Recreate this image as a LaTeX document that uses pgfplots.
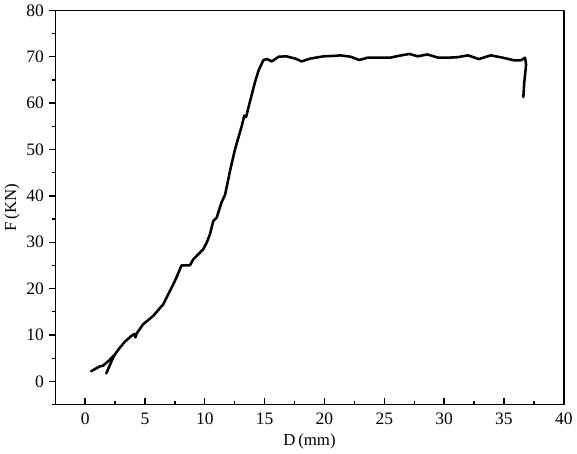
\documentclass[border=0pt]{standalone}
\usepackage{pgfplots}
\pgfplotsset{compat=1.18}
\usepackage{fontspec}
\setmainfont{Liberation Serif}
\begin{document}
\begin{tikzpicture}
\begin{axis}[
  scale only axis,
  width=378pt, height=293pt,
  xmin=-2.5, xmax=40, ymin=-5, ymax=80,
  xtick={0,5,...,40}, ytick={0,10,...,80},
  minor xtick={2.5,7.5,...,37.5}, minor ytick={-5,5,15,...,75},
  xtick pos=lower, ytick pos=left,
  xtick align=inside, ytick align=outside,
  major tick length=5pt, minor tick length=2.5pt,
  every tick/.style={black, line width=1pt},
  axis line style={line width=1.1pt},
  tick label style={font=\fontsize{13}{15}\selectfont},
  xticklabel style={yshift=-2.5pt},
  /pgf/number format/assume math mode=true,
  xlabel={D\,(mm)}, ylabel={F\,(KN)},
  label style={font=\fontsize{12.5}{14}\selectfont},
  xlabel style={yshift=0pt},
  ylabel style={yshift=-2pt},
]
\addplot[black, line width=1.9pt, line join=round, line cap=round] coordinates {
(0.5,2.2)(1.2,3.2)(1.5,3.4)(2.0,4.5)(2.45,5.7)(2.88,7.2)(3.3,8.5)(3.86,9.8)
(4.1,10.2)(4.2,9.5)(4.3,10.3)(4.84,12.3)(5.68,14.1)(6.52,16.6)(7.36,20.9)
(7.63,22.4)(8.05,25.0)(8.75,25.0)(9.03,26.3)(9.87,28.5)(10.15,29.9)(10.43,31.7)
(10.71,34.6)(10.99,35.3)(11.4,38.6)(11.69,40.2)(12.1,45.3)(12.5,49.8)(13.1,55.2)
(13.3,57.3)(13.45,57.0)(13.8,60.6)(14.2,64.6)(14.5,67.1)(14.9,69.3)(15.2,69.5)
(15.6,69.0)(16.16,70.0)(16.8,70.1)(17.56,69.6)(18.1,69.0)(18.8,69.6)(19.95,70.1)
(20.9,70.2)(21.3,70.3)(22.2,70.0)(22.9,69.3)(23.6,69.8)(25.5,69.8)(26.2,70.2)
(27.1,70.6)(27.8,70.1)(28.6,70.5)(29.5,69.8)(30.3,69.8)(31.1,69.9)(32.0,70.3)
(32.9,69.5)(33.9,70.3)(34.9,69.8)(35.9,69.2)(36.4,69.2)(36.77,69.8)(36.85,68.2)
(36.7,64.6)(36.62,61.3)
};
\addplot[black, line width=1.9pt, line join=round, line cap=round] coordinates {
(1.76,1.7)(2.2,4.3)(2.45,5.7)
};
\end{axis}
\end{tikzpicture}
\end{document}
